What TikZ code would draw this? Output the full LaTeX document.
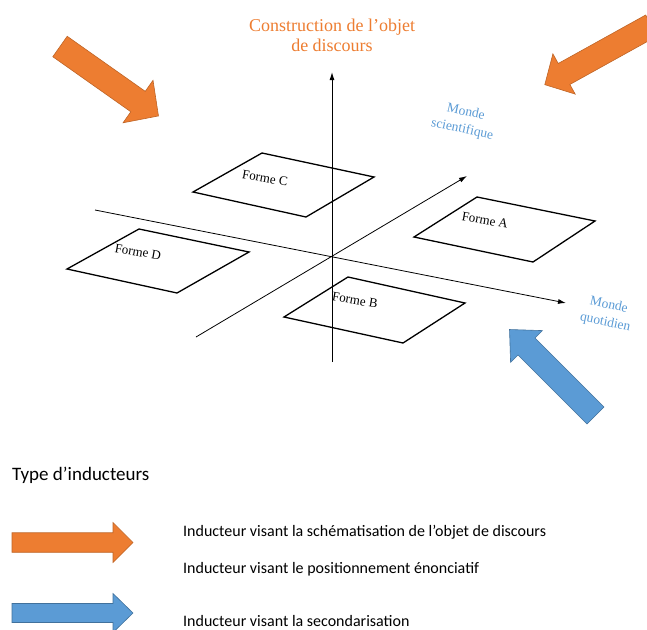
\documentclass[tikz,border=0pt]{standalone}
\usepackage{fontspec}
\setmainfont{Liberation Serif}
\newfontfamily\calib{Carlito}
\usetikzlibrary{arrows.meta}
\definecolor{orng}{HTML}{ED7D31}
\definecolor{orngd}{HTML}{BE6426}
\definecolor{blu}{HTML}{5B9BD5}
\definecolor{blud}{HTML}{41719C}
% #1 tail centre, #2 angle, #3 shaft length, #4 shaft half width, #5 head half width, #6 head length, #7 style
\newcommand{\blockarrow}[7]{%
  \begin{scope}[shift={(#1)},rotate=#2]
    \filldraw[#7] (0,-#4) -- (#3,-#4) -- (#3,-#5) -- ({#3+#6},0) -- (#3,#5) -- (#3,#4) -- (0,#4) -- cycle;
  \end{scope}}
\tikzset{
  formbox/.style={draw, line width=1.3pt, line join=miter},
  axisline/.style={line width=0.8pt, -{Latex[length=8pt,width=5pt]}},
  formlabel/.style={font=\fontsize{13}{15}\selectfont, rotate=-10, inner sep=0pt},
  mondelabel/.style={text=blu, align=center, font=\fontsize{13.5}{17.5}\selectfont, rotate=-12, inner sep=0pt},
  orangearrow/.style={fill=orng, draw=orngd, line width=0.6pt},
  bluearrow/.style={fill=blu, draw=blud, line width=0.6pt},
  legtext/.style={anchor=base west, inner sep=0pt, font=\calib\fontsize{16}{19}\selectfont},
}
\begin{document}
\begin{tikzpicture}[x=1pt,y=-1pt]
\useasboundingbox (0,0) rectangle (647,629);
\clip (0,0) rectangle (647,629);

% big inductor arrows
\blockarrow{60,46.5}{-35.2}{95.5}{12.5}{26}{25}{orangearrow}
\blockarrow{651.5,25.5}{209}{100}{12}{23}{22}{orangearrow}
\blockarrow{595.5,415.5}{135}{97.6}{12}{22.5}{24}{bluearrow}

% title
\node[text=orng, align=center, font=\fontsize{18}{20}\selectfont, inner sep=0pt] (title) at (332,35) {Construction de l’objet\\de discours};

% axes
\coordinate (O) at (332,256);
\coordinate (vt) at (332,72);
\coordinate (vb) at (332,362);
\coordinate (hl) at (95,210);
\coordinate (hr) at (566,303);
\coordinate (dl) at (196,337);
\coordinate (dr) at (467,176);
\draw[axisline, line width=1pt] (vb) -- (vt);
\draw[axisline] (hl) -- (hr);
\draw[axisline] (dl) -- (dr);

% forms
\draw[formbox] (262,153) -- (374,177) -- (306,217) -- (193,192) -- cycle;
\draw[formbox] (139,229) -- (249,252) -- (177,293) -- (67,269) -- cycle;
\draw[formbox] (348,277) -- (465,303) -- (403,343) -- (284,317) -- cycle;
\draw[formbox] (477,197) -- (595,221) -- (533,262) -- (414,237) -- cycle;
\node[formlabel] (lC) at (265,178) {Forme C};
\node[formlabel] (lD) at (138,252) {Forme D};
\node[formlabel] (lB) at (355,300) {Forme B};
\node[formlabel] (lA) at (485,220) {Forme A};

% axis labels
\node[mondelabel] (ms) at (464,121) {Monde\\scientifique};
\node[mondelabel] (mq) at (607,314) {Monde\\quotidien};

% legend
\node[anchor=base west, inner sep=0pt, font=\calib\fontsize{19}{22}\selectfont] (legtitle) at (12,480) {Type d’inducteurs};
\blockarrow{12,542.5}{0}{101}{9.75}{20}{20}{orangearrow}
\blockarrow{12,613}{0}{101}{9.5}{19.5}{20}{bluearrow}
\node[legtext] (l1) at (183,536) {Inducteur visant la schématisation de l’objet de discours};
\node[legtext] (l2) at (183,573) {Inducteur visant le positionnement énonciatif};
\node[legtext] (l3) at (183,626) {Inducteur visant la secondarisation};
\end{tikzpicture}
\end{document}
